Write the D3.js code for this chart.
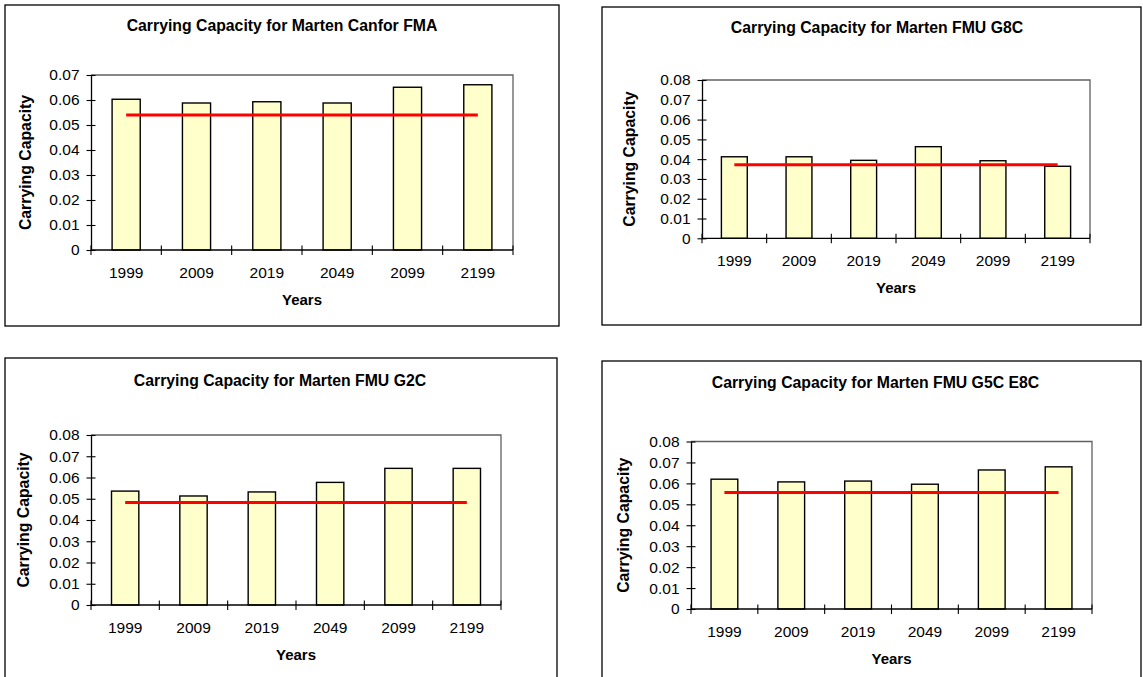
<!DOCTYPE html>
<html>
<head>
<meta charset="utf-8">
<script src="https://cdn.jsdelivr.net/npm/d3@7/dist/d3.min.js"></script>
<style>
  html, body { margin: 0; padding: 0; background: #fff; }
  svg { display: block; font-family: "Liberation Sans", Arial, sans-serif; }
</style>
</head>
<body>
<svg id="chart" width="1143" height="677"></svg>
<script>
// Year categories shared by every panel
const years = ["1999", "2009", "2019", "2049", "2099", "2199"];

// Carrying capacity per year, one array per management unit
const canforFmaValues = [0.0603, 0.0588, 0.0593, 0.0588, 0.0651, 0.0661];
const fmuG8cValues    = [0.0412, 0.0412, 0.0394, 0.0463, 0.0392, 0.0364];
const fmuG2cValues    = [0.0536, 0.0513, 0.0532, 0.0577, 0.0643, 0.0643];
const fmuG5cE8cValues = [0.0620, 0.0607, 0.0611, 0.0596, 0.0664, 0.0679];

// Reference level (red line) per year
const canforFmaLevel = [0.054, 0.054, 0.054, 0.054, 0.054, 0.054];
const fmuG8cLevel    = [0.0372, 0.0372, 0.0372, 0.0372, 0.0372, 0.0372];
const fmuG2cLevel    = [0.0482, 0.0482, 0.0482, 0.0482, 0.0482, 0.0482];
const fmuG5cE8cLevel = [0.0557, 0.0557, 0.0557, 0.0557, 0.0557, 0.0557];

// Panel titles and value-axis maxima
const titles = [
  "Carrying Capacity for Marten Canfor FMA",
  "Carrying Capacity for Marten FMU G8C",
  "Carrying Capacity for Marten FMU G2C",
  "Carrying Capacity for Marten FMU G5C E8C"
];
const yMaxima = [0.07, 0.08, 0.08, 0.08];
const yTickStep = 0.01;
const xAxisTitle = "Years";
const yAxisTitle = "Carrying Capacity";

const seriesValues = [canforFmaValues, fmuG8cValues, fmuG2cValues, fmuG5cE8cValues];
const seriesLevels = [canforFmaLevel, fmuG8cLevel, fmuG2cLevel, fmuG5cE8cLevel];

// Placement of each panel on the page
const layouts = [
  { frame: [5, 5, 559, 326],    plot: [91, 75, 513, 250],    titleX: 282,   titleY: 30.5,  yTitleX: 30.5 },
  { frame: [602, 7, 1141, 325], plot: [702, 80, 1090, 238.3], titleX: 877,   titleY: 32.5,  yTitleX: 635 },
  { frame: [5, 358, 557, 700],  plot: [91, 435, 501, 605],   titleX: 280,   titleY: 385.5, yTitleX: 28.5 },
  { frame: [602, 361, 1141, 700], plot: [691, 441.5, 1092, 609], titleX: 875.5, titleY: 387.5, yTitleX: 628.5 }
];

const svg = d3.select("#chart");

function drawPanel(i) {
  const L = layouts[i];
  const values = seriesValues[i];
  const level = seriesLevels[i];
  const [fx0, fy0, fx1, fy1] = L.frame;
  const [pl, pt, pr, pb] = L.plot;

  const g = svg.append("g").attr("class", "panel");

  // outer chart frame
  g.append("rect")
    .attr("x", fx0).attr("y", fy0)
    .attr("width", fx1 - fx0).attr("height", fy1 - fy0)
    .attr("fill", "#fff").attr("stroke", "#000").attr("stroke-width", 1.3);

  const x = d3.scaleBand().domain(years).range([pl, pr]).paddingInner(0).paddingOuter(0);
  const y = d3.scaleLinear().domain([0, yMaxima[i]]).range([pb, pt]);
  const ticks = d3.range(0, yMaxima[i] + yTickStep / 2, yTickStep);

  // plot area border (top and right)
  g.append("path")
    .attr("d", `M${pl},${pt}H${pr}V${pb}`)
    .attr("fill", "none").attr("stroke", "#606060").attr("stroke-width", 1.3);

  // bars
  const barW = x.bandwidth() * 0.4;
  g.selectAll("rect.bar").data(values).join("rect")
    .attr("class", "bar")
    .attr("x", (d, j) => x(years[j]) + (x.bandwidth() - barW) / 2)
    .attr("y", d => y(d))
    .attr("width", barW)
    .attr("height", d => y(0) - y(d))
    .attr("fill", "#FFFFCC").attr("stroke", "#000").attr("stroke-width", 1.4);

  // reference level line
  const line = d3.line()
    .x((d, j) => x(years[j]) + x.bandwidth() / 2)
    .y(d => y(d));
  g.append("path").datum(level)
    .attr("d", line)
    .attr("fill", "none").attr("stroke", "#FF0000").attr("stroke-width", 3);

  // value axis
  const yAxis = d3.axisLeft(y).tickValues(ticks)
    .tickFormat(d => d === 0 ? "0" : d3.format(".2f")(d))
    .tickSizeInner(4.5).tickSizeOuter(0).tickPadding(7);
  const ya = g.append("g").attr("transform", `translate(${pl},0)`).call(yAxis);
  ya.select(".domain").attr("stroke", "#000").attr("stroke-width", 1.3);
  ya.selectAll(".tick line").attr("x2", 4.5).attr("x1", -4.5).attr("stroke", "#000").attr("stroke-width", 1.1);
  ya.selectAll(".tick text").attr("font-size", 15.5).attr("fill", "#000")
    .attr("font-family", "'Liberation Sans', Arial, sans-serif").attr("x", -11.5);

  // category axis with tick marks at band boundaries
  const xAxis = d3.axisBottom(x).tickSize(0).tickPadding(0);
  const xa = g.append("g").attr("transform", `translate(0,${pb})`).call(xAxis);
  xa.select(".domain").attr("d", `M${pl},0H${pr}`).attr("stroke", "#000").attr("stroke-width", 1.3);
  xa.selectAll(".tick text").attr("font-size", 15.5).attr("fill", "#000")
    .attr("font-family", "'Liberation Sans', Arial, sans-serif")
    .attr("y", 28).attr("dy", 0);
  const boundaries = years.map(c => x(c)).concat([pr]);
  xa.selectAll("line.cross").data(boundaries).join("line")
    .attr("class", "cross")
    .attr("x1", d => d).attr("x2", d => d)
    .attr("y1", -4.5).attr("y2", 5)
    .attr("stroke", "#000").attr("stroke-width", 1.1);

  // titles
  g.append("text")
    .attr("x", L.titleX).attr("y", L.titleY)
    .attr("text-anchor", "middle").attr("font-weight", "bold").attr("font-size", 15.8)
    .text(titles[i]);
  g.append("text")
    .attr("x", (pl + pr) / 2).attr("y", pb + 55)
    .attr("text-anchor", "middle").attr("font-weight", "bold").attr("font-size", 15)
    .text(xAxisTitle);
  g.append("text")
    .attr("transform", `translate(${L.yTitleX},${(pt + pb) / 2}) rotate(-90)`)
    .attr("text-anchor", "middle").attr("font-weight", "bold").attr("font-size", 15.8)
    .text(yAxisTitle);
}

for (let i = 0; i < 4; i++) drawPanel(i);
</script>
</body>
</html>
